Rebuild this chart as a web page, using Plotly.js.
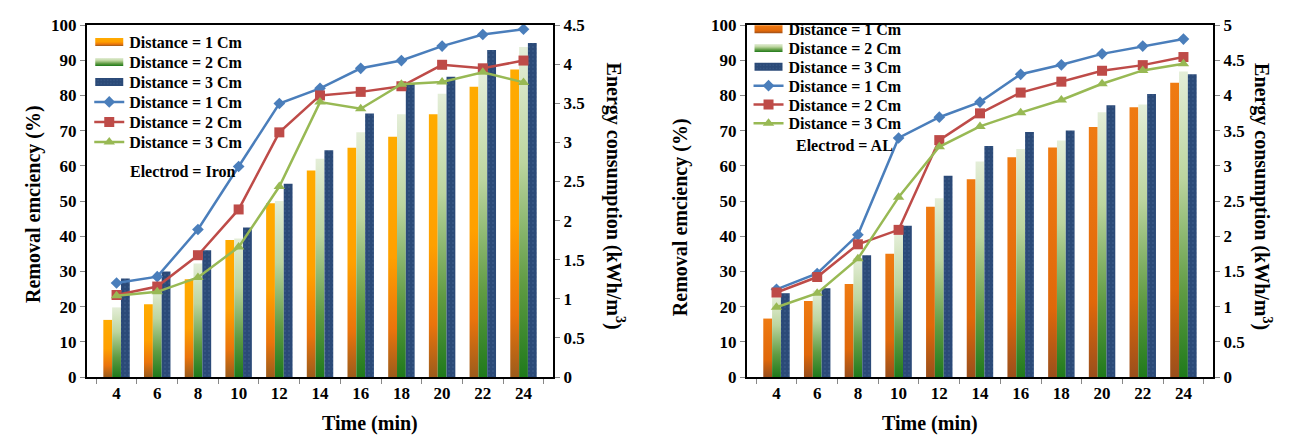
<!DOCTYPE html>
<html><head><meta charset="utf-8">
<script src="https://cdn.plot.ly/plotly-3.0.1.min.js"></script>
<style>body{margin:0;background:#fff}#chart{width:1290px;height:447px}</style>
</head><body><div id="chart"></div>
<script>
const time = ['4','6','8','10','12','14','16','18','20','22','24'];
const seriesNames = ['Distance = 1 Cm','Distance = 2 Cm','Distance = 3 Cm'];

// Iron electrode
const ironRemoval1 = [26.7, 28.5, 41.9, 59.8, 77.7, 82.0, 87.7, 89.9, 94.0, 97.3, 98.8];
const ironRemoval2 = [23.3, 25.7, 34.6, 47.6, 69.5, 80.0, 81.0, 82.6, 88.7, 87.7, 89.9];
const ironRemoval3 = [23.1, 24.2, 28.3, 36.9, 54.1, 78.1, 76.2, 83.2, 83.8, 86.6, 83.7];
const ironEnergy1 = [0.73, 0.93, 1.25, 1.75, 2.22, 2.64, 2.93, 3.07, 3.36, 3.71, 3.93];
const ironEnergy2 = [0.89, 1.15, 1.45, 1.77, 2.25, 2.79, 3.13, 3.36, 3.62, 3.86, 4.22];
const ironEnergy3 = [1.26, 1.35, 1.62, 1.91, 2.47, 2.90, 3.37, 3.76, 3.84, 4.18, 4.27];

// AL electrode
const alRemoval1 = [24.9, 29.4, 40.4, 67.9, 73.8, 78.1, 86.0, 88.7, 91.8, 94.0, 96.0];
const alRemoval2 = [24.0, 28.4, 37.7, 41.8, 67.3, 74.9, 80.8, 83.9, 87.0, 88.6, 90.9];
const alRemoval3 = [19.8, 23.8, 33.6, 51.1, 65.4, 71.2, 75.1, 78.7, 83.3, 87.1, 89.0];
const alEnergy1 = [0.83, 1.08, 1.32, 1.75, 2.42, 2.81, 3.12, 3.26, 3.55, 3.83, 4.18];
const alEnergy2 = [1.13, 1.23, 1.69, 2.02, 2.54, 3.06, 3.24, 3.36, 3.76, 3.87, 4.34];
const alEnergy3 = [1.19, 1.26, 1.73, 2.15, 2.86, 3.28, 3.48, 3.50, 3.86, 4.02, 4.30];

const FONT = 'Liberation Serif, Times New Roman, serif';
const ORANGE_L = '#ffa501', ORANGE_R = '#ee7a11', GREEN_B = '#b8d29b', NAVY = '#2b4a78';
const LINE_C = ['#4a7ebb', '#be4b48', '#98b954'];
const SYM = ['diamond', 'square', 'triangle-up'];
const SYMSIZE = [9, 10, 10];

function bars(energies, orange, xa, ya, leg) {
  const cols = [orange, GREEN_B, NAVY];
  return energies.map((e, i) => {
    const m = {color: cols[i], line: {width: 0}};
    if (i === 2) m.pattern = {shape: '.', fillmode: 'replace', bgcolor: NAVY, fgcolor: '#43638f', size: 4, solidity: 0.12};
    return {type: 'bar', x: time, y: e, name: seriesNames[i], xaxis: xa, yaxis: ya, legend: leg, marker: m};
  });
}
function lines(rems, xa, ya, leg) {
  return rems.map((r, i) => ({type: 'scatter', mode: 'lines+markers', x: time, y: r, name: seriesNames[i],
    xaxis: xa, yaxis: ya, legend: leg, line: {color: LINE_C[i], width: 2.5},
    marker: {symbol: SYM[i], size: SYMSIZE[i], color: LINE_C[i]}}));
}

const data = [
  ...bars([ironEnergy1, ironEnergy2, ironEnergy3], ORANGE_L, 'x', 'y', 'legend'),
  ...lines([ironRemoval1, ironRemoval2, ironRemoval3], 'x', 'y2', 'legend'),
  ...bars([alEnergy1, alEnergy2, alEnergy3], ORANGE_R, 'x2', 'y3', 'legend2'),
  ...lines([alRemoval1, alRemoval2, alRemoval3], 'x2', 'y4', 'legend2')
];

const tickFont = {family: FONT, size: 17, weight: 'bold', color: '#000'};
const titleFont = {family: FONT, size: 20, weight: 'bold', color: '#000'};
function xax(dom, anchor) {
  return {domain: dom, anchor: anchor, type: 'category', tickson: 'boundaries', ticks: 'outside', ticklen: 5,
    tickcolor: '#888', showline: true, linecolor: '#000', linewidth: 2, mirror: true, showgrid: false,
    tickfont: tickFont, zeroline: false, fixedrange: true};
}
function energyAx(anchor, max) {
  return {anchor: anchor, side: 'right', range: [0, max], dtick: 0.5, ticks: 'outside', ticklen: 5, tickcolor: '#888',
    showline: true, linecolor: '#000', linewidth: 2, showgrid: false, zeroline: false, tickfont: tickFont};
}
function pctAx(anchor, over) {
  return {anchor: anchor, overlaying: over, side: 'left', range: [0, 100], dtick: 10, ticks: 'outside', ticklen: 5,
    tickcolor: '#888', showline: true, linecolor: '#000', linewidth: 2, showgrid: false, zeroline: false, tickfont: tickFont};
}
const legFont = {family: FONT, size: 16, weight: 'bold', color: '#000'};
const ann = (text, x, y, angle, extra) => Object.assign({text: text, xref: 'paper', yref: 'paper', x: x, y: y,
  textangle: angle, showarrow: false, font: titleFont}, extra || {});

const layout = {
  width: 1290, height: 447,
  margin: {l: 87, r: 77, t: 20, b: 70},
  paper_bgcolor: '#fff', plot_bgcolor: '#fff',
  barmode: 'group', bargap: 0.35, bargroupgap: 0,
  xaxis: xax([0, 0.4139], 'y'),
  yaxis: energyAx('x', 4.5),
  yaxis2: pctAx('x', 'y'),
  xaxis2: xax([0.5861, 1], 'y3'),
  yaxis3: energyAx('x2', 5),
  yaxis4: pctAx('x2', 'y3'),
  legend: {x: 0.002, y: 1.0, xanchor: 'left', yanchor: 'top', font: legFont, bgcolor: 'rgba(0,0,0,0)', tracegroupgap: 0},
  legend2: {x: 0.5875, y: 1.036, xanchor: 'left', yanchor: 'top', font: legFont, bgcolor: 'rgba(0,0,0,0)', tracegroupgap: 0},
  annotations: [
    ann('Removal emciency (%)', -0.0595, 0.49, -90),
    ann('Energy consumption (kWh/m<sup>3</sup>)', 0.4689, 0.5126, 90),
    ann('Time (min)', 0.2069, -0.171, 0),
    ann('Removal emciency (%)', 0.5266, 0.454, -90),
    ann('Energy consumption (kWh/m<sup>3</sup>)', 1.0568, 0.5126, 90),
    ann('Time (min)', 0.7931, -0.171, 0),
    {text: 'Electrod = Iron', xref: 'x domain', yref: 'y domain', x: 0.088, y: 0.585, xanchor: 'left', yanchor: 'middle',
      showarrow: false, font: {family: FONT, size: 16, weight: 'bold', color: '#000'}},
    {text: 'Electrod = AL', xref: 'x2 domain', yref: 'y3 domain', x: 0.101, y: 0.659, xanchor: 'left', yanchor: 'middle',
      showarrow: false, font: {family: FONT, size: 16, weight: 'bold', color: '#000'}}
  ]
};

function addGradient(defs, id, stops) {
  const ns = 'http://www.w3.org/2000/svg';
  const g = document.createElementNS(ns, 'linearGradient');
  g.setAttribute('id', id); g.setAttribute('x1', '0'); g.setAttribute('y1', '0'); g.setAttribute('x2', '0'); g.setAttribute('y2', '1');
  stops.forEach(s => { const st = document.createElementNS(ns, 'stop'); st.setAttribute('offset', s[0]); st.setAttribute('stop-color', s[1]); g.appendChild(st); });
  defs.appendChild(g);
}
function restyleDom() {
  const svg = document.querySelector('#chart svg.main-svg');
  let defs = svg.querySelector('defs');
  if (!defs) { defs = document.createElementNS('http://www.w3.org/2000/svg', 'defs'); svg.insertBefore(defs, svg.firstChild); }
  addGradient(defs, 'gOrangeL', [['0', '#ffab00'], ['0.5', '#ffa000'], ['0.8', '#ea740c'], ['1', '#9c5c1c']]);
  addGradient(defs, 'gOrangeR', [['0', '#ef7b12'], ['0.7', '#e0680a'], ['1', '#9a4f1c']]);
  addGradient(defs, 'gGreen', [['0', '#e4eed8'], ['0.35', '#bcd59f'], ['0.72', '#5f9b43'], ['1', '#1f7a1b']]);
  const map = {'rgb(255, 165, 1)': 'url(#gOrangeL)', 'rgb(238, 122, 17)': 'url(#gOrangeR)', 'rgb(184, 210, 155)': 'url(#gGreen)'};
  document.querySelectorAll('#chart path').forEach(p => {
    const f = p.style.fill;
    if (map[f]) p.style.fill = map[f];
  });
  // legend: wider bar swatches and tighter rows
  document.querySelectorAll('#chart g.infolayer > g').forEach(lg => {
    const cls = lg.getAttribute('class') || '';
    if (!/^legend/.test(cls)) return;
    lg.querySelectorAll('path').forEach(p => {
      const d = (p.getAttribute('d') || '').replace(/\s/g, '');
      if (d === 'M6,6H-6V-6H6Z') p.setAttribute('d', 'M14,4H-14V-4H14Z');
    });
    const isRight = lg.getBoundingClientRect().left > 645;
    const step = isRight ? 18.8 : 20;
    const items = Array.from(lg.querySelectorAll('g.traces'));
    if (!items.length) return;
    const parse = t => (t || '').match(/translate\(\s*([-\d.e]+)[ ,]+([-\d.e]+)/);
    const m0 = parse(items[0].getAttribute('transform'));
    if (!m0) return;
    const y0 = parseFloat(m0[2]);
    items.forEach((it, i) => {
      const m = parse(it.getAttribute('transform'));
      if (m) it.setAttribute('transform', 'translate(' + m[1] + ',' + (y0 + i * step) + ')');
    });
  });
}
Plotly.newPlot('chart', data, layout, {displayModeBar: false, staticPlot: true}).then(restyleDom);
</script>
</body></html>
